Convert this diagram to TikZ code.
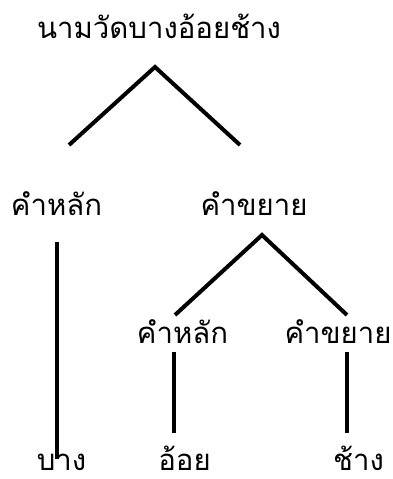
\documentclass[tikz,border=0pt]{standalone}
\usepackage{fontspec}
\newfontfamily\thaifont[Script=Thai]{Loma}
\begin{document}
\begin{tikzpicture}[x=0.75pt,y=-0.75pt,
  lbl/.style={font=\thaifont\fontsize{22}{26}\selectfont, inner sep=0pt, anchor=base, text depth=0pt},
  edge/.style={line width=3pt, line cap=butt}]
\useasboundingbox (0,0) rectangle (393,479);
\node[lbl] (root) at (159,38) {นามวัดบางอ้อยช้าง};
\node[lbl] (h1) at (56.5,215) {คำหลัก};
\node[lbl] (m1) at (254,215) {คำขยาย};
\node[lbl] (h2) at (182.5,343) {คำหลัก};
\node[lbl] (m2) at (338,343) {คำขยาย};
\node[lbl] (w1) at (61.5,470) {บาง};
\node[lbl] (w2) at (184.5,470) {อ้อย};
\node[lbl] (w3) at (358.5,470) {ช้าง};
\coordinate (rA) at (155,67);
\coordinate (h1T) at (69,145);
\coordinate (m1T) at (240,145);
\coordinate (h1B) at (57,242);
\coordinate (w1T) at (57,459);
\coordinate (m1B) at (262,235);
\coordinate (h2T) at (175,315);
\coordinate (m2T) at (347,315);
\coordinate (h2B) at (174,352);
\coordinate (w2T) at (174,433);
\coordinate (m2B) at (347,352);
\coordinate (w3T) at (347,433);
\draw[edge] (h1T) -- (rA) -- (m1T);
\draw[edge] (h1B) -- (w1T);
\draw[edge] (h2T) -- (m1B) -- (m2T);
\draw[edge] (h2B) -- (w2T);
\draw[edge] (m2B) -- (w3T);
\end{tikzpicture}
\end{document}
